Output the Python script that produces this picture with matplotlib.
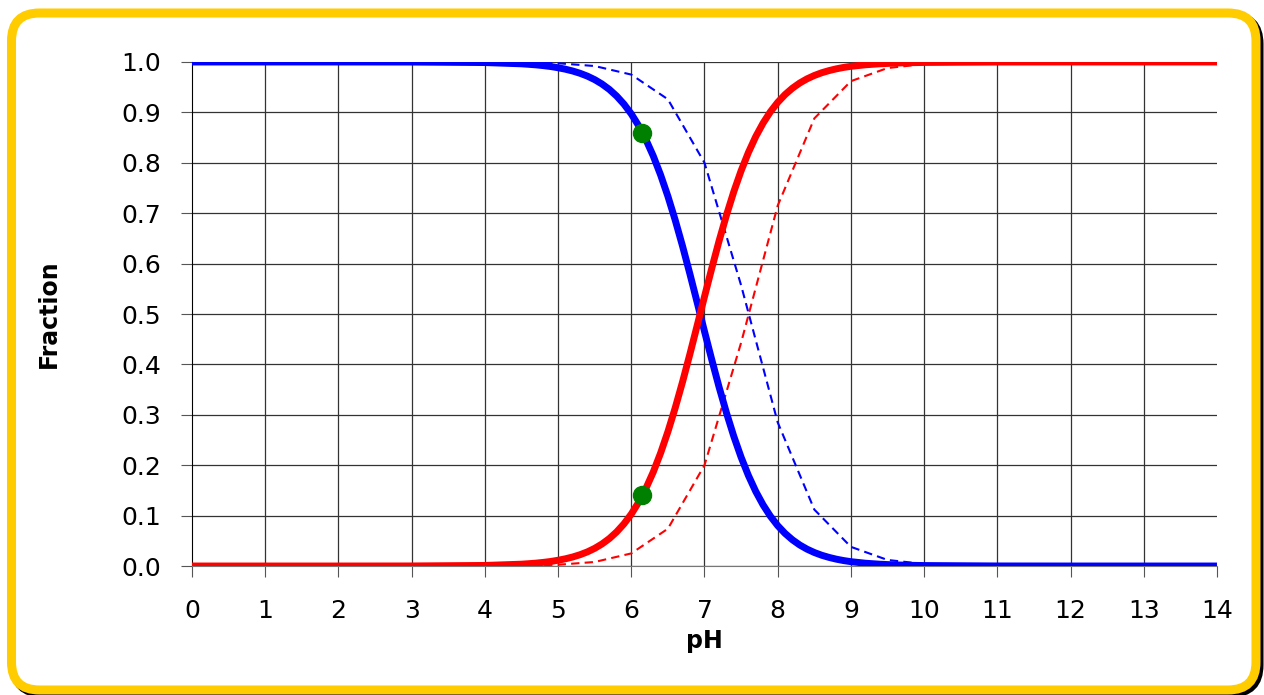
import matplotlib.pyplot as plt
from matplotlib.patches import FancyBboxPatch

# solid curves (acid / base fraction)
ph_solid = [0, 1, 2, 3, 4, 4.5, 4.6, 4.7, 4.8, 4.9, 5.0, 5.1, 5.2, 5.3, 5.4, 5.5,
            5.6, 5.7, 5.8, 5.9, 6.0, 6.1, 6.2, 6.3, 6.4, 6.5, 6.6, 6.7, 6.8, 6.9,
            7.0, 7.1, 7.2, 7.3, 7.4, 7.5, 7.6, 7.7, 7.8, 7.9, 8.0, 8.1, 8.2, 8.3,
            8.4, 8.5, 8.6, 8.7, 8.8, 8.9, 9.0, 9.2, 9.4, 9.6, 9.8, 10, 11, 12, 13, 14]
base_solid = [0.0, 0.0, 0.0, 0.0001, 0.0011, 0.0036, 0.0046, 0.0057, 0.0072, 0.0090,
              0.0114, 0.0143, 0.0179, 0.0224, 0.0280, 0.0350, 0.0437, 0.0544, 0.0676,
              0.0836, 0.1030, 0.1263, 0.1540, 0.1864, 0.2239, 0.2664, 0.3137, 0.3652,
              0.4201, 0.4771, 0.5345, 0.5910, 0.6454, 0.6961, 0.7426, 0.7841, 0.8205,
              0.8520, 0.8787, 0.9012, 0.9199, 0.9353, 0.9479, 0.9582, 0.9665, 0.9732,
              0.9786, 0.9829, 0.9864, 0.9892, 0.9914, 0.9945, 0.9965, 0.9978, 0.9986,
              0.9991, 0.9999, 1.0, 1.0, 1.0]
acid_solid = [1.0, 1.0, 1.0, 0.9999, 0.9989, 0.9964, 0.9954, 0.9943, 0.9928, 0.9910,
              0.9886, 0.9857, 0.9821, 0.9776, 0.9720, 0.9650, 0.9563, 0.9456, 0.9324,
              0.9164, 0.8970, 0.8737, 0.8460, 0.8136, 0.7761, 0.7336, 0.6863, 0.6348,
              0.5799, 0.5229, 0.4655, 0.4090, 0.3546, 0.3039, 0.2574, 0.2159, 0.1795,
              0.1480, 0.1213, 0.0988, 0.0801, 0.0647, 0.0521, 0.0418, 0.0335, 0.0268,
              0.0214, 0.0171, 0.0136, 0.0108, 0.0086, 0.0055, 0.0035, 0.0022, 0.0014,
              0.0009, 0.0001, 0.0, 0.0, 0.0]

# dashed curves, 0.5 pH steps
ph_dash = [0, 1, 2, 3, 4, 4.5, 5, 5.5, 6, 6.5, 7, 7.5, 8, 8.5, 9, 9.5, 10, 10.5,
           11, 12, 13, 14]
acid_dash = [1.0, 1.0, 1.0, 1.0, 0.9997, 0.9992, 0.9975, 0.992, 0.975, 0.926, 0.80,
             0.557, 0.285, 0.112, 0.038, 0.012, 0.004, 0.0013, 0.0004, 0.0, 0.0, 0.0]
base_dash = [0.0, 0.0, 0.0, 0.0, 0.0003, 0.0008, 0.0025, 0.008, 0.025, 0.074, 0.20,
             0.443, 0.715, 0.888, 0.962, 0.988, 0.996, 0.9987, 0.9996, 1.0, 1.0, 1.0]

# highlighted points
ph_points = [6.15, 6.15]
frac_points = [0.86, 0.14]

fig = plt.figure(figsize=(12.64, 6.95), dpi=100)

# rounded yellow frame with dark shadow, behind the axes
shadow = FancyBboxPatch((0.145, 0.02), 12.445, 6.77, boxstyle='round,pad=0,rounding_size=0.28',
                        transform=fig.dpi_scale_trans, fc='black', ec='black', lw=6.5, zorder=-2)
frame = FancyBboxPatch((0.115, 0.05), 12.445, 6.77, boxstyle='round,pad=0,rounding_size=0.28',
                       transform=fig.dpi_scale_trans, fc='white', ec='#FFCC00', lw=6.5, zorder=-1)
fig.patches.append(shadow)
fig.patches.append(frame)

ax = fig.add_axes([0.1519, 0.1856, 0.8109, 0.7252])
ax.patch.set_alpha(0)

ax.plot(ph_dash, acid_dash, color='blue', lw=1.5, ls=(0, (4, 2.5)), zorder=3)
ax.plot(ph_dash, base_dash, color='red', lw=1.5, ls=(0, (4, 2.5)), zorder=3)
ax.plot(ph_solid, acid_solid, color='blue', lw=5, zorder=4, solid_capstyle='butt')
ax.plot(ph_solid, base_solid, color='red', lw=5, zorder=4, solid_capstyle='butt')
ax.plot(ph_points, frac_points, 'o', color='green', ms=13, zorder=5)

ax.set_xlim(0, 14)
ax.set_ylim(0, 1.0)
ax.set_xticks(range(15))
ax.set_yticks([i / 10 for i in range(11)])
ax.set_yticklabels([f'{i / 10:.1f}' for i in range(11)])
ax.grid(True, color='#333333', lw=0.9)
ax.get_xgridlines()[-1].set_visible(False)
ax.get_xgridlines()[0].set_visible(False)
ax.set_axisbelow(True)

for s in ['top', 'right']:
    ax.spines[s].set_visible(False)
ax.spines['left'].set_color('black')
ax.spines['bottom'].set_color('#777777')
ax.tick_params(axis='both', direction='out', length=8, color='#555555', labelsize=18)
ax.tick_params(axis='y', pad=14)
ax.tick_params(axis='x', pad=16)

ax.set_xlabel('pH', fontsize=17, fontweight='bold', labelpad=4)
ax.set_ylabel('Fraction', fontsize=17, fontweight='bold', labelpad=44)

fig.savefig('out.png', dpi=100)
